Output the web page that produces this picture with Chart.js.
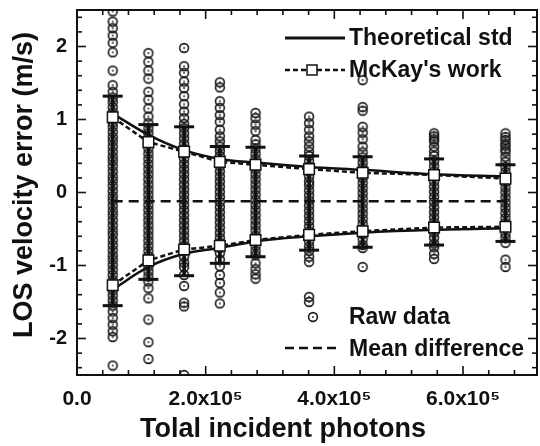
<!DOCTYPE html>
<html><head><meta charset="utf-8">
<script src="https://cdn.jsdelivr.net/npm/chart.js@4.4.1/dist/chart.umd.min.js"></script>
<style>html,body{margin:0;padding:0;background:#fff;}canvas{display:block;}</style>
</head><body>
<canvas id="c" width="540" height="446"></canvas>
<script>
// ---- data ----
const photons = [55500, 111000, 166500, 222000, 277500, 360750, 444000, 555000, 666000];

const raw1 = [2.48, 2.34, 2.25, 2.15, 2.05, 1.92, 1.67, 1.47, 1.38, 1.30, 1.24, 1.17, 1.10, 1.03, 0.96, 0.90, 0.83, 0.76, 0.70, 0.63, 0.56, 0.49, 0.43, 0.36, 0.29, 0.22, 0.16, 0.09, 0.02, -0.05, -0.11, -0.18, -0.25, -0.31, -0.38, -0.45, -0.52, -0.58, -0.65, -0.72, -0.79, -0.86, -0.92, -0.99, -1.06, -1.13, -1.20, -1.27, -1.34, -1.41, -1.48, -1.55, -1.63, -1.72, -1.81, -1.90, -1.98, -2.37];
const raw2 = [1.91, 1.79, 1.67, 1.56, 1.38, 1.27, 1.15, 1.04, 0.95, 0.88, 0.81, 0.74, 0.67, 0.60, 0.53, 0.46, 0.39, 0.32, 0.25, 0.18, 0.11, 0.04, -0.03, -0.10, -0.17, -0.24, -0.31, -0.38, -0.45, -0.52, -0.59, -0.66, -0.73, -0.80, -0.87, -0.94, -1.01, -1.08, -1.15, -1.22, -1.31, -1.45, -1.74, -2.05, -2.28];
const raw3 = [1.98, 1.73, 1.64, 1.52, 1.43, 1.32, 1.21, 1.11, 1.02, 0.94, 0.88, 0.81, 0.74, 0.67, 0.60, 0.53, 0.46, 0.39, 0.32, 0.25, 0.18, 0.11, 0.04, -0.03, -0.10, -0.17, -0.24, -0.31, -0.38, -0.45, -0.52, -0.59, -0.66, -0.73, -0.80, -0.88, -0.96, -1.02, -1.13, -1.28, -1.51, -1.56, -2.50];
const raw4 = [1.51, 1.44, 1.25, 1.16, 1.06, 0.97, 0.86, 0.77, 0.70, 0.63, 0.57, 0.50, 0.43, 0.36, 0.29, 0.22, 0.15, 0.08, 0.01, -0.06, -0.13, -0.20, -0.27, -0.34, -0.41, -0.48, -0.55, -0.62, -0.69, -0.76, -0.83, -0.92, -1.01, -1.13, -1.24, -1.37, -1.52];
const raw5 = [1.09, 1.02, 0.93, 0.84, 0.72, 0.66, 0.60, 0.53, 0.46, 0.39, 0.32, 0.25, 0.18, 0.11, 0.04, -0.03, -0.10, -0.17, -0.24, -0.31, -0.38, -0.45, -0.52, -0.59, -0.66, -0.73, -0.80, -0.86, -0.97, -1.05, -1.12, -1.18];
const raw6 = [1.04, 0.95, 0.86, 0.77, 0.70, 0.63, 0.56, 0.50, 0.43, 0.36, 0.29, 0.22, 0.15, 0.10, 0.03, -0.04, -0.11, -0.18, -0.25, -0.32, -0.39, -0.46, -0.53, -0.60, -0.67, -0.74, -0.80, -0.88, -0.95, -1.43, -1.50];
const raw7 = [1.54, 1.17, 1.12, 0.90, 0.82, 0.73, 0.63, 0.55, 0.48, 0.41, 0.34, 0.27, 0.20, 0.13, 0.06, -0.01, -0.08, -0.15, -0.22, -0.29, -0.36, -0.43, -0.50, -0.57, -0.64, -0.72, -0.76, -1.02];
const raw8 = [0.81, 0.77, 0.73, 0.70, 0.63, 0.56, 0.50, 0.43, 0.36, 0.29, 0.22, 0.15, 0.08, 0.01, -0.06, -0.13, -0.20, -0.27, -0.34, -0.41, -0.48, -0.55, -0.62, -0.70, -0.75, -0.84, -0.91];
const raw9 = [0.81, 0.76, 0.72, 0.67, 0.64, 0.59, 0.56, 0.49, 0.42, 0.35, 0.28, 0.21, 0.14, 0.07, 0.00, -0.07, -0.14, -0.21, -0.28, -0.35, -0.42, -0.49, -0.56, -0.62, -0.69, -0.92, -1.02];

const theoUpper  = [1.08, 0.79, 0.58, 0.46, 0.41, 0.35, 0.31, 0.25, 0.22];
const theoLower  = [-1.33, -1.02, -0.84, -0.76, -0.67, -0.60, -0.55, -0.51, -0.49];
const mckayUpper = [1.03, 0.69, 0.56, 0.42, 0.38, 0.32, 0.27, 0.24, 0.19];
const mckayLower = [-1.27, -0.93, -0.78, -0.73, -0.65, -0.58, -0.53, -0.48, -0.47];
const errUpper   = [1.32, 0.93, 0.90, 0.63, 0.62, 0.50, 0.49, 0.46, 0.38];
const errLower   = [-1.55, -1.19, -1.14, -0.97, -0.88, -0.79, -0.75, -0.72, -0.67];
const meanDiff   = [-0.12, -0.12, -0.12, -0.12, -0.12, -0.12, -0.12, -0.12, -0.12];

const xMajorValues = [0, 200000, 400000, 600000];
const xMajorLabels = ['0.0', '2.0x10\u2075', '4.0x10\u2075', '6.0x10\u2075'];
const yMajorValues = [-2, -1, 0, 1, 2];
const yMajorLabels = ['-2', '-1', '0', '1', '2'];
const xTitle = 'Tolal incident photons';
const yTitle = 'LOS velocity error (m/s)';
const legendTop = ['Theoretical std', "McKay's work"];
const legendBottom = ['Raw data', 'Mean difference'];

// ---- build ----
const rawColumns = [raw1, raw2, raw3, raw4, raw5, raw6, raw7, raw8, raw9];
const rawPoints = rawColumns.flatMap((col, i) => col.map(v => ({x: photons[i], y: v})));
const pts = arr => arr.map((v, i) => ({x: photons[i], y: v}));

function makeCircle() {
  const c = document.createElement('canvas');
  c.width = 12; c.height = 12;
  const g = c.getContext('2d');
  g.beginPath(); g.arc(6, 6, 4.4, 0, Math.PI * 2);
  g.lineWidth = 1.6; g.strokeStyle = '#1a1a1a'; g.stroke();
  g.beginPath(); g.arc(6, 6, 1, 0, Math.PI * 2);
  g.fillStyle = '#333'; g.fill();
  return c;
}
const circleImg = makeCircle();

const xTickVals = []; for (let k = 0; k <= 17; k++) xTickVals.push(k * 40000);
const yTickVals = []; for (let k = -12; k <= 12; k++) yTickVals.push(Math.round(k * 2) / 10);

const FONT = '"Liberation Sans", Arial, sans-serif';
const noPad = s => { s.paddingLeft = 0; s.paddingRight = 0; s.paddingTop = 0; s.paddingBottom = 0; };

const decorPlugin = {
  id: 'decor',
  afterDraw(chart) {
    const {ctx, chartArea: a, scales: {x, y}} = chart;
    ctx.save();
    ctx.strokeStyle = '#111';
    ctx.lineWidth = 1.6;
    const ln = (x1, y1, x2, y2) => { ctx.beginPath(); ctx.moveTo(x1, y1); ctx.lineTo(x2, y2); ctx.stroke(); };
    x.ticks.forEach(t => {
      const px = x.getPixelForValue(t.value);
      if (px > a.right + 0.5) return;
      const len = xMajorValues.includes(t.value) ? 9 : 5;
      ln(px, a.bottom, px, a.bottom - len);
      ln(px, a.top, px, a.top + len);
    });
    y.ticks.forEach(t => {
      const py = y.getPixelForValue(t.value);
      const len = yMajorValues.some(v => Math.abs(v - t.value) < 1e-6) ? 9 : 5;
      ln(a.left, py, a.left + len, py);
      ln(a.right, py, a.right - len, py);
    });
    ctx.lineWidth = 2;
    ctx.strokeRect(a.left, a.top, a.right - a.left, a.bottom - a.top);

    // legends
    ctx.fillStyle = '#111';
    ctx.font = 'bold 23px ' + FONT;
    ctx.textBaseline = 'middle';
    ctx.textAlign = 'left';
    ctx.lineWidth = 3;
    ctx.setLineDash([]);
    ln(285, 38, 345, 38);
    ctx.fillText(legendTop[0], 349, 39);
    ctx.lineWidth = 2.5;
    ctx.setLineDash([5, 3]);
    ln(285, 70, 345, 70);
    ctx.setLineDash([]);
    ctx.lineWidth = 1.5;
    ctx.fillStyle = '#fff';
    ctx.fillRect(307, 65, 10, 10);
    ctx.strokeRect(307, 65, 10, 10);
    ctx.fillStyle = '#111';
    ctx.fillText(legendTop[1], 349, 71);

    ctx.drawImage(circleImg, 313 - 6, 317 - 6);
    ctx.fillText(legendBottom[0], 349, 318);
    ctx.lineWidth = 2.5;
    ctx.setLineDash([9, 5]);
    ln(285, 348, 339, 348);
    ctx.setLineDash([]);
    ctx.fillText(legendBottom[1], 349, 350);

    // axis titles
    ctx.font = 'bold 27px ' + FONT;
    ctx.textAlign = 'center';
    ctx.fillText(xTitle, 283, 430);
    ctx.translate(25, 185);
    ctx.rotate(-Math.PI / 2);
    ctx.fillText(yTitle, 0, 0);
    ctx.restore();
  }
};

new Chart(document.getElementById('c'), {
  type: 'scatter',
  data: {
    datasets: [
      { type: 'line', label: 'McKay upper', data: pts(mckayUpper), order: 1,
        borderColor: '#111', borderWidth: 2.5, borderDash: [5, 3], fill: false,
        pointStyle: 'rect', pointRadius: 7.5, pointBackgroundColor: '#fff',
        pointBorderColor: '#111', pointBorderWidth: 1.5 },
      { type: 'line', label: 'McKay lower', data: pts(mckayLower), order: 1,
        borderColor: '#111', borderWidth: 2.5, borderDash: [5, 3], fill: false,
        pointStyle: 'rect', pointRadius: 7.5, pointBackgroundColor: '#fff',
        pointBorderColor: '#111', pointBorderWidth: 1.5 },
      { type: 'line', label: 'Theoretical upper', data: pts(theoUpper), order: 2,
        borderColor: '#111', borderWidth: 2.5, pointRadius: 0, fill: false,
        cubicInterpolationMode: 'monotone' },
      { type: 'line', label: 'Theoretical lower', data: pts(theoLower), order: 2,
        borderColor: '#111', borderWidth: 2.5, pointRadius: 0, fill: false,
        cubicInterpolationMode: 'monotone' },
      { type: 'line', label: 'Mean difference', data: pts(meanDiff), order: 3,
        borderColor: '#111', borderWidth: 2.5, borderDash: [10, 6], pointRadius: 0, fill: false },
      { type: 'scatter', label: 'Error caps', data: pts(errUpper).concat(pts(errLower)), order: 4,
        pointStyle: 'line', pointRadius: 10, pointBorderWidth: 3, pointBorderColor: '#111' },
      { type: 'bar', label: 'Error bars', order: 5,
        data: photons.map((p, i) => ({x: p, y: [errLower[i], errUpper[i]]})),
        backgroundColor: '#111', barThickness: 3, borderWidth: 0 },
      { type: 'scatter', label: 'Raw data', data: rawPoints, order: 6,
        pointStyle: circleImg, pointRadius: 5 }
    ]
  },
  options: {
    responsive: false,
    animation: false,
    devicePixelRatio: 1,
    layout: { autoPadding: false, padding: { left: 0, right: 3, top: 10, bottom: 0 } },
    plugins: { legend: { display: false }, tooltip: { enabled: false } },
    scales: {
      x: {
        type: 'linear', min: 0, max: 715000, offset: false,
        grid: { display: false, drawTicks: false }, border: { display: false },
        afterBuildTicks: s => { s.ticks = xTickVals.map(v => ({value: v})); },
        afterFit: s => { s.height = 71; noPad(s); },
        ticks: {
          autoSkip: false, maxRotation: 0, padding: 12, color: '#111',
          font: { family: FONT, size: 21, weight: 'bold' },
          callback: v => { const i = xMajorValues.indexOf(v); return i >= 0 ? xMajorLabels[i] : ''; }
        }
      },
      y: {
        type: 'linear', min: -2.5, max: 2.5,
        grid: { display: false, drawTicks: false }, border: { display: false },
        afterBuildTicks: s => { s.ticks = yTickVals.map(v => ({value: v})); },
        afterFit: s => { s.width = 77; noPad(s); },
        ticks: {
          autoSkip: false, padding: 10, color: '#111',
          font: { family: FONT, size: 20, weight: 'bold' },
          callback: v => { const i = yMajorValues.findIndex(m => Math.abs(m - v) < 1e-6); return i >= 0 ? yMajorLabels[i] : ''; }
        }
      }
    }
  },
  plugins: [decorPlugin]
});
</script>
</body></html>
